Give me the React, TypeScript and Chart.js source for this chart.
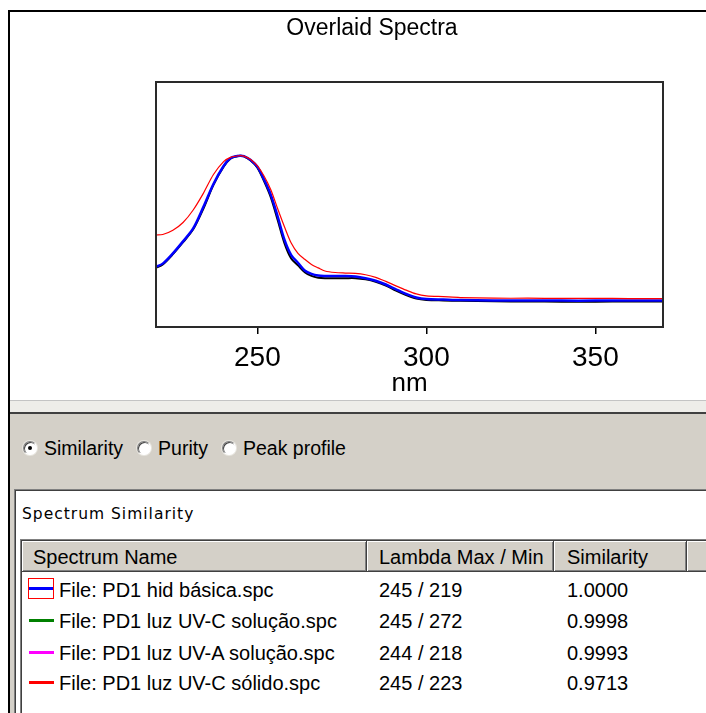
import React, { useEffect, useRef } from 'react';
import { Chart, registerables } from 'chart.js';

Chart.register(...registerables);

const chartTitle = 'Overlaid Spectra';
const xAxisLabel = 'nm';
const tickValues = [250, 300, 350];

const wavelengths = [
  220, 222, 225, 228, 231, 234, 237, 240, 242, 244, 245, 246, 248, 250, 252, 254,
  256, 258, 260, 262, 264, 266, 268, 270, 273, 276, 279, 282, 285, 288, 291, 294,
  297, 300, 305, 310, 320, 330, 340, 350, 360, 370,
];

// File: PD1 hid básica.spc (blue)
const hidBasica = [
  0.352, 0.37, 0.43, 0.5, 0.575, 0.7, 0.835, 0.94, 0.985, 0.998, 1.0, 0.997, 0.975, 0.935, 0.86, 0.77,
  0.645, 0.51, 0.42, 0.375, 0.33, 0.31, 0.3, 0.298, 0.298, 0.298, 0.295, 0.285, 0.27, 0.248, 0.22, 0.193,
  0.172, 0.163, 0.16, 0.157, 0.155, 0.155, 0.154, 0.154, 0.154, 0.154,
];

// dark trace lying under the blue one
const darkTrace = [
  0.345, 0.365, 0.425, 0.495, 0.57, 0.69, 0.83, 0.935, 0.982, 0.997, 1.0, 0.996, 0.972, 0.93, 0.85, 0.755,
  0.625, 0.49, 0.4, 0.36, 0.32, 0.298, 0.288, 0.285, 0.285, 0.285, 0.285, 0.278, 0.264, 0.242, 0.212, 0.186,
  0.166, 0.158, 0.155, 0.153, 0.15, 0.149, 0.148, 0.148, 0.149, 0.149,
];

// File: PD1 luz UV-C sólido.spc (red)
const uvcSolido = [
  0.537, 0.54, 0.565, 0.61, 0.683, 0.78, 0.89, 0.965, 0.99, 0.998, 1.0, 0.997, 0.978, 0.94, 0.88, 0.8,
  0.69, 0.585, 0.49, 0.43, 0.395, 0.365, 0.345, 0.327, 0.318, 0.315, 0.313, 0.305, 0.29, 0.266, 0.24, 0.215,
  0.193, 0.182, 0.177, 0.172, 0.168, 0.168, 0.167, 0.167, 0.166, 0.166,
];

const radioLabels = ['Similarity', 'Purity', 'Peak profile'];
const panelTitle = 'Spectrum Similarity';
const columnHeaders = ['Spectrum Name', 'Lambda Max / Min', 'Similarity'];
const spectrumNames = [
  'File: PD1 hid básica.spc',
  'File: PD1 luz UV-C solução.spc',
  'File: PD1 luz UV-A solução.spc',
  'File: PD1 luz UV-C sólido.spc',
];
const lambdaMaxMin = ['245 / 219', '245 / 272', '244 / 218', '245 / 223'];
const similarityValues = ['1.0000', '0.9998', '0.9993', '0.9713'];
const swatchColors = ['#0000ff', '#008000', '#ff00ff', '#ff0000'];

const FONT = "'Liberation Sans', Arial, sans-serif";

const framePlugin = {
  id: 'frame',
  afterDatasetsDraw(chart: any) {
    const { ctx, chartArea } = chart;
    const { left, top, right, bottom } = chartArea;
    ctx.save();
    ctx.strokeStyle = '#2a2a2a';
    ctx.lineWidth = 2;
    ctx.strokeRect(left, top, right - left, bottom - top);
    ctx.restore();
  },
};

function SpectraChart() {
  const ref = useRef<HTMLCanvasElement>(null);
  useEffect(() => {
    if (!ref.current) return;
    const toPts = (ys: number[]) => wavelengths.map((x, i) => ({ x, y: ys[i] }));
    const chart = new Chart(ref.current, {
      type: 'line',
      data: {
        datasets: [
          { data: toPts(uvcSolido), borderColor: '#ff0000', borderWidth: 1.2, pointRadius: 0, tension: 0.3, fill: false },
          { data: toPts(hidBasica), borderColor: '#0000ff', borderWidth: 2.5, pointRadius: 0, tension: 0.3, fill: false },
          { data: toPts(darkTrace), borderColor: '#000000', borderWidth: 2, pointRadius: 0, tension: 0.3, fill: false },
        ],
      },
      options: {
        animation: false,
        responsive: false,
        maintainAspectRatio: false,
        layout: { padding: { left: 156, right: 43, top: 82, bottom: 0 } },
        plugins: { legend: { display: false }, tooltip: { enabled: false }, title: { display: false } },
        scales: {
          x: {
            type: 'linear',
            min: 220,
            max: 370,
            afterBuildTicks: (axis: any) => {
              axis.ticks = tickValues.map((v) => ({ value: v }));
            },
            afterFit: (axis: any) => {
              axis.height = 73;
            },
            grid: { display: true, drawOnChartArea: false, drawTicks: true, tickLength: 7, color: '#000', lineWidth: 1.5 },
            border: { display: false },
            ticks: {
              font: { family: FONT, size: 28 },
              color: '#000',
              padding: 7,
              maxRotation: 0,
              autoSkip: false,
            },
            title: {
              display: true,
              text: xAxisLabel,
              color: '#000',
              font: { family: FONT, size: 26, lineHeight: 1 },
              padding: { top: 0, bottom: 3 },
            },
          },
          y: { display: false, min: 0, max: 1.43 },
        },
      },
      plugins: [framePlugin],
    });
    return () => chart.destroy();
  }, []);
  return <canvas ref={ref} width={706} height={400} style={{ position: 'absolute', left: 0, top: 0 }} />;
}

function Radio({ checked }: { checked: boolean }) {
  return (
    <div
      style={{
        width: 14,
        height: 14,
        borderRadius: '50%',
        boxSizing: 'border-box',
        background: '#fff',
        border: '1px solid',
        borderColor: '#808080 #ffffff #ffffff #808080',
        boxShadow: 'inset 1px 1px 0 #404040, 0 0 0 1px #e8e6e0',
        position: 'relative',
        flex: '0 0 auto',
      }}
    >
      {checked && (
        <div style={{ position: 'absolute', left: 4, top: 4, width: 4, height: 4, borderRadius: '50%', background: '#000' }} />
      )}
    </div>
  );
}

const colLefts = [22, 367, 554, 687];
const colWidths = [345, 187, 133, 60];
const colTextOffsets = [11, 12, 13, 10];
const rowCenters = [590, 621, 653, 683];

export default function App() {
  const abs = (s: React.CSSProperties): React.CSSProperties => ({ position: 'absolute', ...s });
  return (
    <div
      style={{
        position: 'fixed',
        left: 0,
        top: 0,
        width: 706,
        height: 713,
        background: '#fff',
        overflow: 'hidden',
        fontFamily: FONT,
        color: '#000',
      }}
    >
      <SpectraChart />
      <div style={abs({ left: 8, top: 10, width: 698, height: 2, background: '#000' })} />
      <div style={abs({ left: 8, top: 10, width: 2, height: 703, background: '#000' })} />
      <div style={abs({ left: 262, top: 13, width: 220, height: 28, lineHeight: '28px', fontSize: 23, textAlign: 'center' })}>
        {chartTitle}
      </div>

      {/* separator */}
      <div style={abs({ left: 10, top: 400, width: 696, height: 1, background: '#c4c4c4' })} />
      <div style={abs({ left: 10, top: 401, width: 696, height: 11, background: '#eeede9' })} />
      <div style={abs({ left: 10, top: 412, width: 696, height: 2, background: '#404040' })} />
      <div style={abs({ left: 10, top: 414, width: 696, height: 299, background: '#d4d0c8' })} />

      {/* radio row */}
      <div style={abs({ left: 23, top: 436, height: 24, display: 'flex', alignItems: 'center', fontSize: 19.5 })}>
        {radioLabels.map((l, i) => (
          <div key={l} style={{ display: 'flex', alignItems: 'center', marginRight: 14 }}>
            <Radio checked={i === 0} />
            <span style={{ marginLeft: 7 }}>{l}</span>
          </div>
        ))}
      </div>

      {/* white inner box */}
      <div
        style={abs({
          left: 14,
          top: 489,
          width: 692,
          height: 224,
          background: '#fff',
          boxSizing: 'border-box',
          borderTop: '1px solid #808080',
          borderLeft: '1px solid #808080',
          boxShadow: 'inset 1px 1px 0 #404040',
        })}
      />
      <div style={abs({ left: 22, top: 503, height: 22, lineHeight: '22px', fontSize: 15.5, letterSpacing: 1, fontFamily: "'DejaVu Sans', sans-serif" })}>
        {panelTitle}
      </div>

      {/* table frame */}
      <div
        style={abs({
          left: 20,
          top: 539,
          width: 686,
          height: 174,
          boxSizing: 'border-box',
          borderTop: '1px solid #808080',
          borderLeft: '1px solid #808080',
          boxShadow: 'inset 1px 1px 0 #404040',
        })}
      />
      {/* header */}
      {colLefts.map((x, i) => (
        <div
          key={'h' + i}
          style={abs({
            left: x,
            top: 541,
            width: colWidths[i],
            height: 31,
            boxSizing: 'border-box',
            background: '#d4d0c8',
            borderRight: '1px solid #404040',
            borderBottom: '1px solid #404040',
            boxShadow: 'inset 1px 1px 0 #ffffff, inset -1px -1px 0 #808080',
            fontSize: 20,
            lineHeight: '32px',
            paddingLeft: colTextOffsets[i],
            whiteSpace: 'nowrap',
          })}
        >
          {columnHeaders[i] || ''}
        </div>
      ))}

      {/* rows */}
      {spectrumNames.map((name, r) => {
        const cy = rowCenters[r];
        return (
          <React.Fragment key={name}>
            {r === 0 ? (
              <div
                style={abs({
                  left: 28,
                  top: cy - 12,
                  width: 26,
                  height: 21,
                  boxSizing: 'border-box',
                  border: '1px solid #ff0000',
                })}
              >
                <div style={abs({ left: 0, top: 8, width: 24, height: 3, background: swatchColors[r] })} />
              </div>
            ) : (
              <div style={abs({ left: 29, top: cy - 2, width: 25, height: 3, background: swatchColors[r] })} />
            )}
            <div style={abs({ left: 59, top: cy - 12, height: 24, lineHeight: '24px', fontSize: 20, whiteSpace: 'nowrap' })}>{name}</div>
            <div style={abs({ left: 379, top: cy - 12, height: 24, lineHeight: '24px', fontSize: 20, whiteSpace: 'nowrap' })}>{lambdaMaxMin[r]}</div>
            <div style={abs({ left: 567, top: cy - 12, height: 24, lineHeight: '24px', fontSize: 20, whiteSpace: 'nowrap' })}>{similarityValues[r]}</div>
          </React.Fragment>
        );
      })}
    </div>
  );
}
